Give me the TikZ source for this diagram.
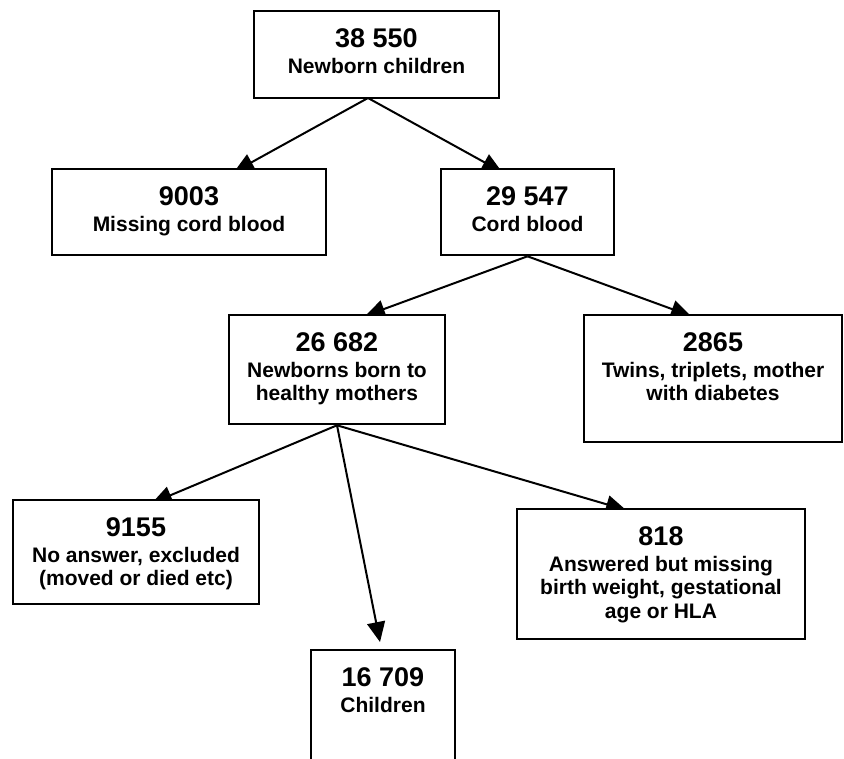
\documentclass[tikz,border=0pt]{standalone}
\usepackage{fontspec}
\setmainfont{Liberation Sans}
\usetikzlibrary{arrows.meta}
\pgfdeclarelayer{bg}
\pgfsetlayers{bg,main}
\begin{document}
\begin{tikzpicture}[x=1pt,y=-1pt,
  box/.style={draw=black, line width=2.6pt, fill=white, inner sep=0pt, rectangle},
  num/.style={anchor=base, inner sep=0pt, font=\bfseries\fontsize{27}{30}\selectfont},
  lab/.style={anchor=base, inner sep=0pt, font=\bfseries\fontsize{21}{24}\selectfont},
  arr/.style={line width=2pt, -{Triangle[length=20pt,width=18pt]}}]
\useasboundingbox (0,0) rectangle (844,759);
\begin{pgfonlayer}{bg}
  \fill[white] (0,0) rectangle (844,759);
\end{pgfonlayer}

% boxes
\node[box, minimum width=245pt, minimum height=87pt]  (b1) at (376.5,54.5) {};
\node[box, minimum width=274pt, minimum height=86pt]  (b2) at (189,212) {};
\node[box, minimum width=173pt, minimum height=86pt]  (b3) at (527.5,212) {};
\node[box, minimum width=216pt, minimum height=109pt] (b4) at (337,369.5) {};
\node[box, minimum width=258pt, minimum height=127pt] (b5) at (713,378.5) {};
\node[box, minimum width=246pt, minimum height=104pt] (b6) at (136,552) {};
\node[box, minimum width=288pt, minimum height=130pt] (b7) at (661,574) {};
\node[box, minimum width=144pt, minimum height=113pt] (b8) at (383,706.5) {};

% texts
\node[num] (t1n) at (376.5,47.5) {38 550};
\node[lab] (t1a) at (376.5,73.5) {Newborn children};

\node[num] (t2n) at (189,205.5) {9003};
\node[lab] (t2a) at (189,231.5) {Missing cord blood};

\node[num] (t3n) at (527.5,205.5) {29 547};
\node[lab] (t3a) at (527.5,231.5) {Cord blood};

\node[num] (t4n) at (337,351.5) {26 682};
\node[lab] (t4a) at (337,377.5) {Newborns born to};
\node[lab] (t4b) at (337,400.8) {healthy mothers};

\node[num] (t5n) at (713,351.5) {2865};
\node[lab] (t5a) at (713,377.5) {Twins, triplets, mother};
\node[lab] (t5b) at (713,400.8) {with diabetes};

\node[num] (t6n) at (136,536.5) {9155};
\node[lab] (t6a) at (136,562.5) {No answer, excluded};
\node[lab] (t6b) at (136,585.8) {(moved or died etc)};

\node[num] (t7n) at (661,545.5) {818};
\node[lab] (t7a) at (661,571.5) {Answered but missing};
\node[lab] (t7b) at (661,594.8) {birth weight, gestational};
\node[lab] (t7c) at (661,618.1) {age or HLA};

\node[num] (t8n) at (383,686.5) {16 709};
\node[lab] (t8a) at (383,712.5) {Children};

% arrow ends
\coordinate (o1) at (368,98);
\coordinate (p1) at (234,172);
\coordinate (p2) at (502,172);
\coordinate (p3) at (365,316);
\coordinate (p4) at (691,316);
\coordinate (p5) at (152,503);
\coordinate (p6) at (380,642);
\coordinate (p7) at (626,510);

\begin{pgfonlayer}{bg}
  \draw[arr] (o1) -- (p1);
  \draw[arr] (o1) -- (p2);
  \draw[arr] (b3.south) -- (p3);
  \draw[arr] (b3.south) -- (p4);
  \draw[arr] (b4.south) -- (p5);
  \draw[arr] (b4.south) -- (p6);
  \draw[arr] (b4.south) -- (p7);
\end{pgfonlayer}
\end{tikzpicture}
\end{document}
